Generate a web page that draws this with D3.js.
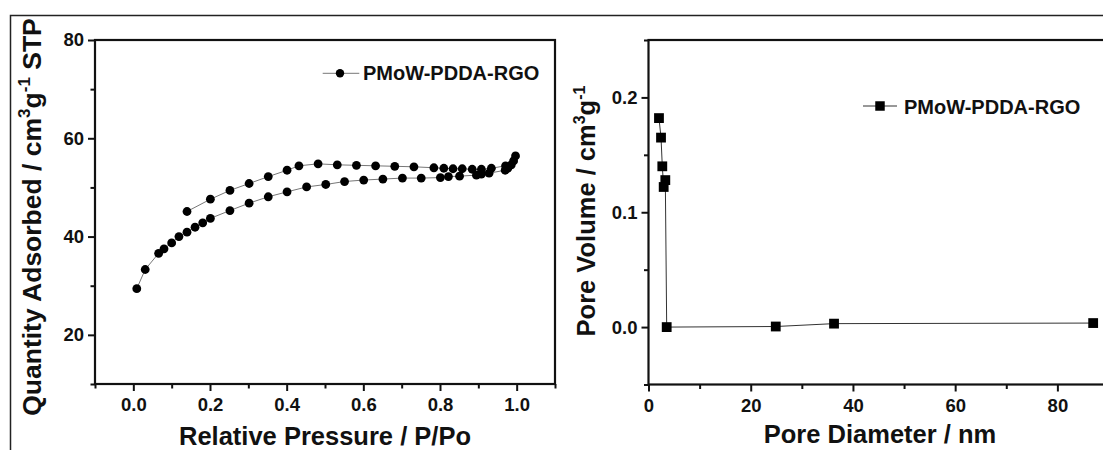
<!DOCTYPE html>
<html>
<head>
<meta charset="utf-8">
<script src="https://cdn.jsdelivr.net/npm/d3@7"></script>
<style>
  body { margin: 0; background: #fff; }
  text { font-family: "Liberation Sans", Arial, sans-serif; font-weight: bold; fill: #111; }
</style>
</head>
<body>
<div class="chart"></div>
<script>
// N2 isotherm, adsorption branch (P/Po, cm3/g STP)
var adsP = [0.009, 0.031, 0.066, 0.080, 0.100, 0.119, 0.140, 0.161, 0.181, 0.201, 0.252, 0.302, 0.352, 0.401,
            0.452, 0.502, 0.551, 0.601, 0.651, 0.702, 0.751, 0.801, 0.822, 0.851, 0.895, 0.908, 0.928, 0.970,
            0.977, 0.986, 0.992, 0.997];
var adsQ = [29.4, 33.3, 36.6, 37.5, 38.7, 40.0, 40.9, 41.9, 42.8, 43.7, 45.3, 46.8, 48.1, 49.1,
            50.1, 50.6, 51.2, 51.5, 51.7, 51.9, 51.9, 52.0, 52.2, 52.3, 52.5, 52.7, 52.9, 53.5,
            53.9, 54.6, 55.4, 56.4];
// desorption branch
var desP = [0.971, 0.934, 0.908, 0.884, 0.858, 0.834, 0.810, 0.784, 0.732, 0.682, 0.632, 0.582, 0.532, 0.482,
            0.432, 0.401, 0.352, 0.302, 0.252, 0.201, 0.140];
var desQ = [54.4, 53.9, 53.7, 53.7, 53.8, 53.8, 53.9, 54.0, 54.2, 54.3, 54.4, 54.5, 54.6, 54.8,
            54.4, 53.5, 52.2, 50.8, 49.4, 47.6, 45.1];

// pore size distribution
var poreD = [2.05, 2.45, 2.7, 2.97, 3.29, 3.56, 24.9, 36.3, 87.0];
var poreV = [0.182, 0.165, 0.140, 0.122, 0.128, 0.000, 0.0005, 0.003, 0.0035];

var seriesName = "PMoW-PDDA-RGO";

var leftXTicks = [0, 0.2, 0.4, 0.6, 0.8, 1.0];
var leftXMinor = [-0.1, 0.1, 0.3, 0.5, 0.7, 0.9, 1.1];
var leftYTicks = [20, 40, 60, 80];
var leftYMinor = [10, 30, 50, 70];
var rightXTicks = [0, 20, 40, 60, 80];
var rightXMinor = [10, 30, 50, 70, 90];
var rightYTicks = [0.0, 0.1, 0.2];
var rightYMinor = [-0.05, 0.05, 0.15, 0.25];

var svgWidth = 1103;
var svgHeight = 450;

var svg = d3.select(".chart")
  .append("svg")
  .attr("width", svgWidth)
  .attr("height", svgHeight)
  .style("display", "block");

// outer figure border (cut by the picture edge)
svg.append("rect")
  .attr("x", 10.5).attr("y", 15.5)
  .attr("width", 1120).attr("height", 460)
  .attr("fill", "none").attr("stroke", "#222").attr("stroke-width", 1.5);

// scales
var xL = d3.scaleLinear().domain([-0.1, 1.1]).range([95, 555]);
var yL = d3.scaleLinear().domain([10, 80]).range([384, 40]);
var xR = d3.scaleLinear().domain([0, 90]).range([648.5, 1108.5]);
var yR = d3.scaleLinear().domain([-0.05, 0.25]).range([384.5, 40]);

function drawAxes(x, y, xt, xm, yt, ym, xfmt, yfmt) {
  var y0 = y.range()[0];
  var x0 = x.range()[0];
  svg.append("g").attr("transform", `translate(0,${y0})`)
    .call(d3.axisBottom(x).tickValues(xt).tickSize(7).tickSizeOuter(0).tickPadding(7).tickFormat(xfmt));
  svg.append("g").attr("transform", `translate(0,${y0})`)
    .call(d3.axisBottom(x).tickValues(xm).tickSize(4.5).tickSizeOuter(0).tickFormat(""));
  svg.append("g").attr("transform", `translate(${x0},0)`)
    .call(d3.axisLeft(y).tickValues(yt).tickSize(7).tickSizeOuter(0).tickPadding(4).tickFormat(yfmt));
  svg.append("g").attr("transform", `translate(${x0},0)`)
    .call(d3.axisLeft(y).tickValues(ym).tickSize(4.5).tickSizeOuter(0).tickFormat(""));
  svg.selectAll(".domain").remove();
  svg.selectAll(".tick line").attr("stroke", "#111").attr("stroke-width", 2);
  svg.selectAll(".tick text").style("font-size", "18.5px").attr("fill", "#111");
  // plot frame
  svg.append("rect")
    .attr("x", x.range()[0]).attr("y", y.range()[1])
    .attr("width", x.range()[1] - x.range()[0])
    .attr("height", y.range()[0] - y.range()[1])
    .attr("fill", "none").attr("stroke", "#111").attr("stroke-width", 2.2);
}

drawAxes(xL, yL, leftXTicks, leftXMinor, leftYTicks, leftYMinor, d3.format(".1f"), d3.format("d"));
drawAxes(xR, yR, rightXTicks, rightXMinor, rightYTicks, rightYMinor, d3.format("d"), d3.format(".1f"));

// ---- left: isotherm ----
var iso = adsP.map((p, i) => ({x: p, y: adsQ[i]}))
  .concat(desP.map((p, i) => ({x: p, y: desQ[i]})));

svg.append("path")
  .datum(iso)
  .attr("fill", "none")
  .attr("stroke", "#777")
  .attr("stroke-width", 1)
  .attr("d", d3.line().x(d => xL(d.x)).y(d => yL(d.y)));

svg.append("g").selectAll("circle")
  .data(iso)
  .enter()
  .append("circle")
  .attr("cx", d => xL(d.x))
  .attr("cy", d => yL(d.y))
  .attr("r", 4.4)
  .attr("fill", "#000");

// legend left
svg.append("line").attr("x1", 322.7).attr("x2", 359.3).attr("y1", 73.3).attr("y2", 73.3)
  .attr("stroke", "#777").attr("stroke-width", 1);
svg.append("circle").attr("cx", 340).attr("cy", 73.3).attr("r", 4.2).attr("fill", "#000");
svg.append("text").attr("x", 363).attr("y", 80).style("font-size", "20px").text(seriesName);

// ---- right: pore size distribution ----
var psd = poreD.map((d, i) => ({x: d, y: poreV[i]}));

svg.append("path")
  .datum(psd)
  .attr("fill", "none")
  .attr("stroke", "#333")
  .attr("stroke-width", 1)
  .attr("d", d3.line().x(d => xR(d.x)).y(d => yR(d.y)));

svg.append("g").selectAll("path")
  .data(psd)
  .enter()
  .append("path")
  .attr("transform", d => `translate(${xR(d.x)},${yR(d.y)})`)
  .attr("d", d3.symbol().type(d3.symbolSquare).size(96))
  .attr("fill", "#000");

// legend right
svg.append("line").attr("x1", 863).attr("x2", 897).attr("y1", 106).attr("y2", 106)
  .attr("stroke", "#333").attr("stroke-width", 1);
svg.append("path").attr("transform", "translate(880,106)")
  .attr("d", d3.symbol().type(d3.symbolSquare).size(90)).attr("fill", "#000");
svg.append("text").attr("x", 904).attr("y", 113.5).style("font-size", "20px").text(seriesName);

// ---- axis titles ----
svg.append("text")
  .attr("x", 325).attr("y", 445)
  .attr("text-anchor", "middle").style("font-size", "25.5px")
  .text("Relative Pressure / P/Po");

svg.append("text")
  .attr("x", 880).attr("y", 443)
  .attr("text-anchor", "middle").style("font-size", "25.5px")
  .text("Pore Diameter / nm");

var yt1 = svg.append("text")
  .attr("transform", "translate(41,217) rotate(-90)")
  .attr("text-anchor", "middle").style("font-size", "26.5px");
yt1.append("tspan").text("Quantity Adsorbed / cm");
yt1.append("tspan").attr("dy", -11).style("font-size", "17px").text("3");
yt1.append("tspan").attr("dy", 11).text("g");
yt1.append("tspan").attr("dy", -11).style("font-size", "17px").text("-1");
yt1.append("tspan").attr("dy", 11).text(" STP");

var yt2 = svg.append("text")
  .attr("transform", "translate(595,211) rotate(-90)")
  .attr("text-anchor", "middle").style("font-size", "25.5px");
yt2.append("tspan").text("Pore Volume / cm");
yt2.append("tspan").attr("dy", -10).style("font-size", "16px").text("3");
yt2.append("tspan").attr("dy", 10).text("g");
yt2.append("tspan").attr("dy", -10).style("font-size", "16px").text("-1");
</script>
</body>
</html>
